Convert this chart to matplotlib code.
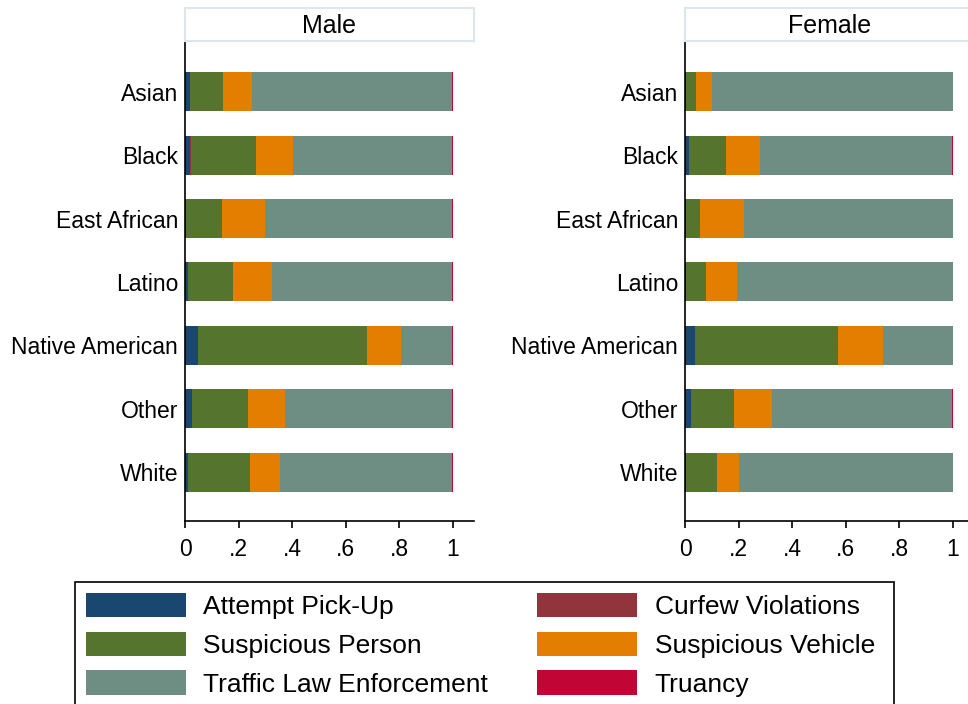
import matplotlib
matplotlib.use("Agg")
import matplotlib.pyplot as plt
from matplotlib.patches import Rectangle
import numpy as np

plt.rcParams['font.family'] = ['Liberation Sans', 'DejaVu Sans']

groups = ["Asian", "Black", "East African", "Latino", "Native American", "Other", "White"]
panels = ["Male", "Female"]
categories = ["Attempt Pick-Up", "Curfew Violations", "Suspicious Person",
              "Suspicious Vehicle", "Traffic Law Enforcement", "Truancy"]
colors = ["#1a476f", "#90353b", "#55752f", "#e37e00", "#6e8e84", "#c10534"]

# shares per group, one list per category (stacked in this order)
male = {
    "Attempt Pick-Up":         [0.019, 0.019, 0.003, 0.011, 0.049, 0.026, 0.011],
    "Curfew Violations":       [0.000, 0.002, 0.000, 0.000, 0.000, 0.000, 0.001],
    "Suspicious Person":       [0.122, 0.242, 0.136, 0.169, 0.630, 0.210, 0.232],
    "Suspicious Vehicle":      [0.110, 0.139, 0.160, 0.146, 0.127, 0.138, 0.112],
    "Traffic Law Enforcement": [0.746, 0.595, 0.698, 0.671, 0.191, 0.623, 0.641],
    "Truancy":                 [0.003, 0.003, 0.003, 0.003, 0.003, 0.003, 0.003],
}
female = {
    "Attempt Pick-Up":         [0.003, 0.015, 0.004, 0.004, 0.038, 0.023, 0.003],
    "Curfew Violations":       [0.000, 0.000, 0.000, 0.000, 0.000, 0.000, 0.002],
    "Suspicious Person":       [0.038, 0.139, 0.052, 0.075, 0.532, 0.161, 0.115],
    "Suspicious Vehicle":      [0.060, 0.124, 0.165, 0.116, 0.169, 0.142, 0.081],
    "Traffic Law Enforcement": [0.899, 0.718, 0.779, 0.805, 0.261, 0.670, 0.799],
    "Truancy":                 [0.000, 0.004, 0.000, 0.000, 0.000, 0.004, 0.000],
}
xticks = [0, 0.2, 0.4, 0.6, 0.8, 1.0]
xticklabels = ["0", ".2", ".4", ".6", ".8", "1"]

W, H = 968, 704
fig = plt.figure(figsize=(W / 100, H / 100), dpi=100)

def px(l, t, w, h):
    return [l / W, (H - t - h) / H, w / W, h / H]

handles = {}
for left, name, data in [(185, "Male", male), (685, "Female", female)]:
    ax = fig.add_axes(px(left, 41, 289, 480))
    y = np.arange(len(groups))
    base = np.zeros(len(groups))
    for cat, col in zip(categories, colors):
        vals = np.array(data[cat])
        b = ax.barh(y, vals, left=base, height=0.615, color=col, linewidth=0)
        handles[cat] = b
        base += vals
    ax.set_xlim(0, 1.078)
    ax.set_ylim(6.77, -0.8)
    ax.set_yticks(y)
    ax.set_yticklabels(groups, fontsize=16.5)
    ax.set_xticks(xticks)
    ax.set_xticklabels(xticklabels, fontsize=16.5)
    ax.tick_params(axis='y', length=0, pad=5)
    ax.tick_params(axis='x', length=5, width=1.2, pad=7)
    for s in ["top", "right"]:
        ax.spines[s].set_visible(False)
    for s in ["left", "bottom"]:
        ax.spines[s].set_linewidth(1.2)

    # panel strip
    st = fig.add_axes(px(left, 8, 289, 33))
    st.set_xticks([])
    st.set_yticks([])
    for s in st.spines.values():
        s.set_color("#dce6ed")
        s.set_linewidth(1.5)
    st.text(0.5, 0.45, name, ha="center", va="center", fontsize=18)

order = ["Attempt Pick-Up", "Suspicious Person", "Traffic Law Enforcement",
         "Curfew Violations", "Suspicious Vehicle", "Truancy"]
leg = fig.legend([handles[c] for c in order], order, ncol=2, fontsize=19,
                 loc="upper left", bbox_to_anchor=(86 / W, (H - 593) / H),
                 frameon=False, handlelength=3.8, handleheight=1.05,
                 handletextpad=0.65, labelspacing=0.47, columnspacing=1.85,
                 borderpad=0, borderaxespad=0)

# legend frame drawn separately (Stata-style, unequal padding)
fig.patches.append(Rectangle((75 / W, (H - 708) / H), 819 / W, 126 / H,
                             transform=fig.transFigure, fill=False,
                             edgecolor="black", linewidth=1.2))

fig.savefig("out.png", dpi=100)
